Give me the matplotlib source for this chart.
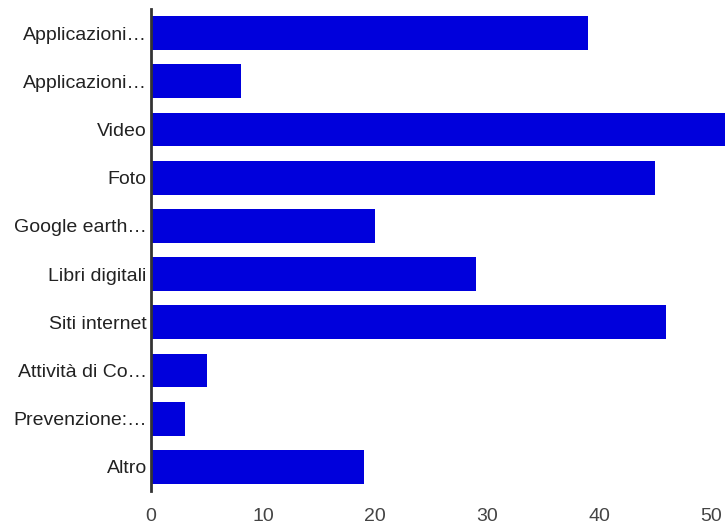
import matplotlib
matplotlib.use('Agg')
import matplotlib.pyplot as plt

labels = ['Applicazioni…', 'Applicazioni…', 'Video', 'Foto', 'Google earth…',
          'Libri digitali', 'Siti internet', 'Attività di Co…', 'Prevenzione:…', 'Altro']
values = [39, 8, 52, 45, 20, 29, 46, 5, 3, 19]
xticks = [0, 10, 20, 30, 40, 50]

plt.rcParams['font.family'] = ['Liberation Sans', 'DejaVu Sans']

fig = plt.figure(figsize=(7.25, 5.24), dpi=100)
# axes deliberately runs off the right edge, like the cropped original
ax = fig.add_axes([151/725, 1 - 491/524, 1 - 151/725, (491 - 9)/524])

pos = list(range(len(labels)))
ax.barh(pos, values, height=0.7, color='#0000dc')
ax.set_ylim(len(labels) - 0.5, -0.5)
ax.set_xlim(0, 51.25)

ax.set_yticks(pos)
ax.set_yticklabels(labels, fontsize=14, color='#222222')
ax.set_xticks(xticks)
ax.set_xticklabels([str(t) for t in xticks], fontsize=14, color='#444444')
ax.tick_params(axis='y', length=0, pad=3)
ax.tick_params(axis='x', length=0, pad=12)

for s in ['top', 'right', 'bottom']:
    ax.spines[s].set_visible(False)
ax.spines['left'].set_color('#333333')
ax.spines['left'].set_linewidth(2)

fig.savefig('out.png', dpi=100)
